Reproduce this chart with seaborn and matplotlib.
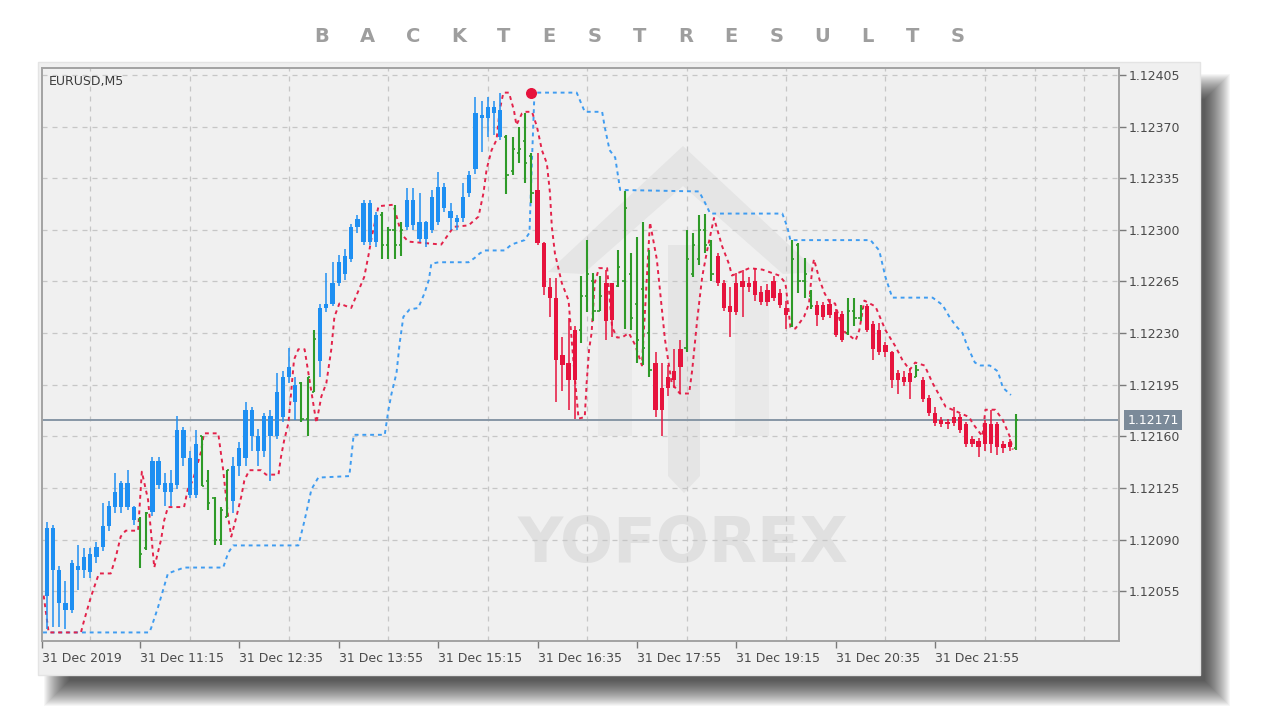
import numpy as np
import pandas as pd
import matplotlib
matplotlib.use("Agg")
import matplotlib.pyplot as plt
import matplotlib.patches as mpatches
from matplotlib.transforms import blended_transform_factory
import seaborn as sns

# Prix en points (1e-5) au-dessus de 1.12000
BASE = 1.12
PT = 1e-5

opens = [52, 98, 69, 47, 42, 72, 69, 68, 78, 85, 99, 112, 112, 128, 112, 103, 84,
         109, 143, 128, 122, 127, 164, 145, 120, 160, 130, 118, 90, 105,
         116, 140, 145, 178, 160, 150, 174, 160, 173, 200, 195, 196, 172, 190,
         211, 247, 250, 264, 270, 280, 302, 292, 318, 292, 310, 290, 300, 290,
         302, 320, 305, 294, 300, 305, 329, 313, 308, 308, 325, 341, 378, 376, 383, 381,
         363, 340, 352, 360, 350, 327, 291, 261, 254, 215, 210, 198,
         232, 255, 265, 245, 264, 264, 262, 265, 270, 250, 260, 230,
         210, 193, 200, 204, 219, 220, 270, 280, 300, 290,
         282, 264, 248, 244, 265, 261, 265, 258, 251, 265, 257, 247,
         235, 290, 265, 255, 249, 249, 250, 244, 243, 230, 245, 240,
         248, 236, 232, 222, 217, 203, 200, 203, 200,
         198, 186, 176, 171, 170, 169, 173, 168, 158, 157, 155, 168, 168, 155, 156, 152]
highs = [102, 100, 72, 62, 76, 86, 84, 84, 88, 115, 116, 135, 130, 137, 113, 105, 109,
         146, 146, 135, 137, 174, 166, 150, 164, 160, 137, 119, 112, 137,
         146, 156, 183, 180, 165, 176, 178, 203, 204, 220, 200, 197, 200, 232,
         250, 271, 278, 283, 287, 304, 310, 320, 320, 312, 312, 302, 317, 305,
         328, 328, 325, 306, 327, 339, 332, 318, 310, 332, 340, 390, 387, 390, 387, 393,
         364, 363, 370, 379, 352, 352, 292, 267, 267, 227, 240, 235,
         269, 293, 271, 269, 273, 264, 286, 326, 284, 295, 305, 286,
         217, 210, 208, 219, 225, 300, 298, 310, 311, 293,
         284, 266, 261, 271, 273, 268, 274, 262, 263, 269, 260, 252,
         293, 291, 281, 259, 252, 251, 253, 246, 245, 254, 254, 249,
         250, 238, 237, 224, 218, 205, 204, 206, 208,
         200, 188, 180, 173, 172, 180, 175, 170, 160, 159, 171, 178, 170, 157, 158, 175]
lows = [29, 31, 31, 29, 40, 56, 64, 64, 74, 82, 96, 108, 108, 110, 100, 71, 83,
        106, 124, 113, 113, 124, 140, 118, 118, 126, 110, 86, 86, 105,
        108, 133, 140, 150, 140, 146, 130, 158, 170, 196, 171, 170, 160, 190,
        200, 244, 248, 262, 266, 278, 298, 290, 290, 288, 280, 280, 280, 282,
        300, 300, 292, 288, 298, 303, 312, 300, 300, 305, 322, 338, 353, 363, 364, 361,
        324, 337, 345, 332, 318, 290, 256, 241, 183, 191, 178, 172,
        223, 244, 238, 245, 225, 227, 261, 233, 232, 210, 208, 200,
        173, 160, 187, 193, 189, 217, 268, 276, 284, 265,
        262, 245, 227, 242, 241, 258, 252, 249, 248, 252, 247, 233,
        234, 257, 254, 246, 235, 239, 240, 227, 224, 229, 235, 238,
        231, 212, 215, 214, 193, 189, 194, 185, 200,
        183, 174, 167, 166, 165, 167, 162, 153, 153, 146, 150, 149, 147, 149, 150, 151]
closes = [98, 69, 47, 42, 74, 69, 78, 80, 85, 99, 113, 122, 128, 112, 103, 80, 108,
          143, 127, 122, 128, 164, 145, 120, 155, 126, 115, 90, 110, 137,
          140, 152, 178, 160, 150, 174, 160, 190, 200, 207, 183, 172, 200, 226,
          247, 250, 264, 278, 282, 302, 307, 318, 292, 310, 290, 300, 290, 300,
          320, 303, 294, 305, 322, 329, 315, 308, 305, 322, 337, 379, 376, 383, 379, 363,
          337, 355, 355, 345, 325, 291, 261, 254, 212, 208, 198, 232,
          255, 270, 245, 255, 238, 239, 275, 315, 240, 225, 220, 205,
          178, 178, 193, 198, 207, 280, 290, 300, 290, 270,
          264, 247, 244, 264, 261, 264, 256, 251, 259, 254, 249, 242,
          280, 265, 270, 248, 242, 241, 242, 229, 225, 245, 240, 246,
          232, 219, 217, 217, 198, 198, 197, 197, 205,
          185, 176, 169, 168, 168, 173, 164, 155, 155, 153, 169, 155, 153, 152, 153, 171]
# b = tendance haussiere, r = baissiere, g = neutre (barres OHLC)
trend = ("bbbbbbbbbbbbbbb" "gg" "bbbbbbbb" "ggggg" "bbbbbbbbbbb" "ggg" "bbbbbbbbbb"
         "gggg" "bbbbbbbbbbbbbbbb" "ggggg" "rrrrrrr" "gggg" "rr" "gggggg" "rrrrr"
         "ggggg" "rrrrrrrrrrrr" "gggg" "rrrrr" "ggg" "rrrrrrrr" "g" "rrrrrrrrrrrrrrr" "g")

# Ligne rouge (trailing) et ligne bleue (canal) : (barre, points)
red_bar = [-0.5, 0.3, 5.5, 6.0, 7.1, 7.9, 8.4, 10.3, 11.1, 11.9, 12.7, 14.7, 15.3, 16.3, 16.8,
           17.3, 18.4, 18.9, 19.5, 22.1, 22.7, 23.5, 24.8, 25.3, 27.6, 28.4, 29.2, 29.7,
           30.5, 31.3, 31.8, 32.6, 34.5, 35.3, 37.3, 37.7, 38.2, 38.9, 39.8, 40.5, 41.5,
           43.4, 44.2, 45.0, 45.8, 46.3, 47.1, 49.0, 49.5, 51.1, 51.8, 52.3, 53.4, 55.8,
           57.1, 58.2, 63.5, 65.5, 67.9, 69.5, 70.3, 70.8, 71.6, 72.4, 72.9, 73.5, 74.4,
           75.2, 75.6, 76.5, 76.9, 78.1, 78.9, 79.7, 80.5, 81.0, 81.3, 81.8, 82.9, 84.0,
           84.5, 85.0, 85.6, 86.6, 86.9, 87.3, 87.7, 88.2, 88.9, 90.2, 91.0, 91.8, 92.6,
           93.7, 94.7, 95.8, 97.1, 98.2, 99.5, 100.6, 101.9, 103.4, 103.9, 104.7, 105.5,
           106.3, 107.4, 108.7, 109.8, 110.3, 113.1, 115.2, 117.9, 118.9, 119.4, 119.7,
           120.5, 121.9, 122.7, 123.2, 123.5, 124.4, 125.2, 126.0, 126.9, 128.1, 130.2,
           130.8, 131.6, 133.4, 135.0, 136.6, 137.7, 138.9, 139.8, 141.3, 142.6, 144.7,
           145.8, 148.5, 149.0, 150.6, 151.1, 152.7, 153.9, 155.0, 155.5]
red_val = [52, 27, 27, 35, 51, 61, 67, 67, 78, 92, 96, 96, 136, 117, 94,
           71, 90, 103, 112, 112, 124, 130, 149, 162, 162, 137, 105, 92,
           105, 119, 130, 137, 137, 134, 134, 146, 157, 169, 212, 219, 219,
           169, 187, 196, 219, 241, 250, 247, 252, 268, 283, 295, 316, 317,
           297, 292, 290, 302, 303, 309, 325, 341, 354, 361, 381, 393, 393,
           381, 371, 379, 380, 380, 370, 354, 345, 325, 302, 284, 264, 252,
           225, 200, 172, 173, 196, 219, 230, 264, 274, 274, 234, 227, 227,
           230, 222, 208, 305, 280, 226, 196, 189, 189, 205, 239, 268,
           286, 308, 289, 277, 269, 274, 273, 269, 264, 246, 234,
           233, 241, 250, 273, 280, 266, 257, 251, 250, 232, 225,
           232, 252, 248, 232, 221, 212, 205, 210, 208, 196, 180,
           178, 173, 169, 160, 178, 178, 171, 160, 151]
blue_bar = [-0.6, 16.5, 16.8, 17.9, 19.5, 22.1, 28.4, 29.2, 30.0, 40.5, 41.5, 42.6, 43.7,
            48.7, 49.4, 54.4, 55.0, 55.5, 56.3, 56.8, 57.4, 58.4, 59.8, 60.8, 61.5, 61.9,
            63.1, 67.9, 68.9, 69.7, 70.5, 73.7, 74.8, 76.9, 77.7, 78.1, 78.4, 78.5, 85.3,
            86.6, 89.4, 89.8, 90.6, 91.5, 92.3, 105.0, 106.0, 106.8, 118.4, 119.2, 119.7,
            132.6, 134.0, 135.0, 136.1, 142.6, 144.2, 145.3, 146.3, 147.4, 148.2, 149.4,
            150.3, 151.8, 153.1, 153.9, 155.2]
blue_val = [27, 27, 30, 44, 67, 71, 71, 81, 86, 86, 103, 124, 132,
            133, 161, 161, 178, 189, 203, 223, 241, 246, 247, 257, 266, 277,
            278, 278, 281, 284, 286, 286, 290, 293, 298, 347, 381, 393, 393,
            380, 380, 370, 354, 349, 327, 326, 318, 311, 311, 302, 293,
            293, 286, 268, 254, 254, 249, 241, 235, 230, 221, 210,
            208, 208, 204, 193, 188]
signal_bar = 78
signal_val = 393

last_price = 171
symbol = "EURUSD,M5"
start_time = "2019-12-31 10:00"
label_times = ["11:15", "12:35", "13:55", "15:15", "16:35", "17:55", "19:15", "20:35", "21:55"]

COLORS = {"b": "#1e8ff2", "r": "#e6133d", "g": "#2e9a28"}
BLUE_LINE = "#3f9cf0"
RED_LINE = "#e3224a"

W, H = 1280, 720


def px(x, y):
    return (x / W, 1 - y / H)


def fig_rect(x0, y0, x1, y1, **kw):
    a = px(x0, y1)
    b = px(x1, y0)
    return mpatches.Rectangle(a, b[0] - a[0], b[1] - a[1], transform=fig.transFigure, **kw)


sns.set_style("white")
plt.rcParams["font.family"] = ["DejaVu Sans"]

fig = plt.figure(figsize=(12.8, 7.2), dpi=100)
fig.patch.set_facecolor("white")

# Ombre portee floue + carte
for g in range(14, -12, -1):
    fig.add_artist(fig_rect(58 - g, 88 - g, 1216 + g, 692 + g, facecolor="black",
                            edgecolor="none", alpha=0.035, zorder=0))
fig.add_artist(fig_rect(38, 62, 1200, 675, facecolor="#f0f0f0", edgecolor="#e4e4e4",
                        lw=1, zorder=0.5))

# Titre espace
letters = list("BACKTESTRESULTS")
for lx, ch in zip(np.linspace(322, 958, len(letters)), letters):
    fig.text(lx / W, 1 - 36 / H, ch, ha="center", va="center", fontsize=14,
             fontweight="bold", color="#9e9e9e")

ax = fig.add_axes([42 / W, 1 - 641 / H, (1119 - 42) / W, (641 - 68) / H])
ax.set_facecolor("#f0f0f0")
ax.set_zorder(1)

df = pd.DataFrame({"bar": np.arange(len(closes)), "o": opens, "h": highs, "l": lows,
                   "c": closes, "trend": list(trend)})
for col in ["o", "h", "l", "c"]:
    df[col] = BASE + df[col] * PT

# Filigrane YOFOREX
wm = "#d6d6d6"
roof = [(548, 272), (683, 146), (818, 272), (783, 274), (683, 186), (583, 274)]
center = [(668, 245), (700, 245), (700, 476), (684, 493), (668, 476)]
for poly in [roof, center]:
    ax.add_patch(mpatches.Polygon([px(*p) for p in poly], closed=True, transform=fig.transFigure,
                                  facecolor=wm, edgecolor="none", alpha=0.42, zorder=0.3))
for lx0 in (598, 735):
    ax.add_patch(fig_rect(lx0, 290, lx0 + 34, 436, facecolor=wm, edgecolor="none",
                          alpha=0.25, zorder=0.3))
ax.text(683 / W, 1 - 545 / H, "YOFOREX", transform=fig.transFigure, ha="center", va="center",
        fontsize=45, fontweight="bold", color="#e0e0e0", zorder=0.35)

# Ligne de prix courant
ax.axhline(BASE + last_price * PT, color="#8796a5", lw=1.4, zorder=1.5)

# Lignes pointillees
sns.lineplot(x=blue_bar, y=[BASE + v * PT for v in blue_val], ax=ax, color=BLUE_LINE,
             lw=1.4, sort=False, estimator=None, zorder=2)
ax.lines[-1].set_dashes([2, 2])
sns.lineplot(x=red_bar, y=[BASE + v * PT for v in red_val], ax=ax, color=RED_LINE,
             lw=1.4, sort=False, estimator=None, zorder=2)
ax.lines[-1].set_dashes([2, 2])

# Bougies bleues / rouges
for code in "br":
    sub = df[df.trend == code]
    ax.vlines(sub.bar, sub.l, sub.h, color=COLORS[code], lw=1.1, zorder=3)
    bottom = np.minimum(sub.o, sub.c)
    height = np.maximum(np.abs(sub.c - sub.o), 1.2 * PT)
    ax.bar(sub.bar, height, bottom=bottom, width=0.68, color=COLORS[code], zorder=3,
           linewidth=0)

# Barres OHLC vertes
sub = df[df.trend == "g"]
ax.vlines(sub.bar, sub.l, sub.h, color=COLORS["g"], lw=1.5, zorder=3)
ax.hlines(sub.o, sub.bar - 0.35, sub.bar, color=COLORS["g"], lw=1.2, zorder=3)
ax.hlines(sub.c, sub.bar, sub.bar + 0.35, color=COLORS["g"], lw=1.2, zorder=3)

ax.scatter([signal_bar], [BASE + signal_val * PT], s=48, color=COLORS["r"], zorder=4)

# Axes
ax.set_xlim(-0.77, 172.6)
ax.set_ylim(BASE + 21.2 * PT, BASE + 409.7 * PT)

yt = [BASE + v * PT for v in range(55, 406, 35)]
ax.yaxis.tick_right()
ax.set_yticks(yt)
ax.set_yticklabels([f"{v:.5f}" for v in yt])

times = pd.date_range(start_time, periods=len(closes), freq="5min")
hhmm = list(times.strftime("%H:%M"))
xt = [-0.77] + [hhmm.index(t) for t in label_times]
ax.set_xticks(xt)
ax.set_xticklabels(["31 Dec 2019"] + ["31 Dec " + t for t in label_times], ha="left")
ax.set_xticks(np.arange(7, 172, 8), minor=True)

grid_kw = dict(color="#c6c6c6", lw=0.9, ls=(0, (4, 4)))
ax.grid(which="minor", axis="x", **grid_kw)
ax.grid(which="major", axis="y", **grid_kw)
ax.grid(which="major", axis="x", visible=False)

ax.tick_params(axis="y", which="major", right=True, left=False, length=5, width=1,
               color="#7a7a7a", labelsize=9, labelcolor="#4a4a4a", pad=2)
ax.tick_params(axis="x", which="major", bottom=True, length=5, width=1, color="#7a7a7a",
               labelsize=9, labelcolor="#4a4a4a", pad=3)
ax.tick_params(axis="x", which="minor", length=0)
for s in ax.spines.values():
    s.set_color("#a2a2a2")
    s.set_linewidth(1.4)

ax.text(0.006, 0.988, symbol, transform=ax.transAxes, ha="left", va="top", fontsize=9,
        color="#3c3c3c")

trans = blended_transform_factory(ax.transAxes, ax.transData)
ax.annotate(f"{BASE + last_price * PT:.5f}", xy=(1.0, BASE + last_price * PT), xycoords=trans,
            xytext=(6, 0), textcoords="offset points", ha="left", va="center", fontsize=9,
            color="white", bbox=dict(boxstyle="square,pad=0.25", fc="#7b8a99", ec="none"),
            annotation_clip=False)

fig.savefig("out.png", dpi=100, facecolor="white")
